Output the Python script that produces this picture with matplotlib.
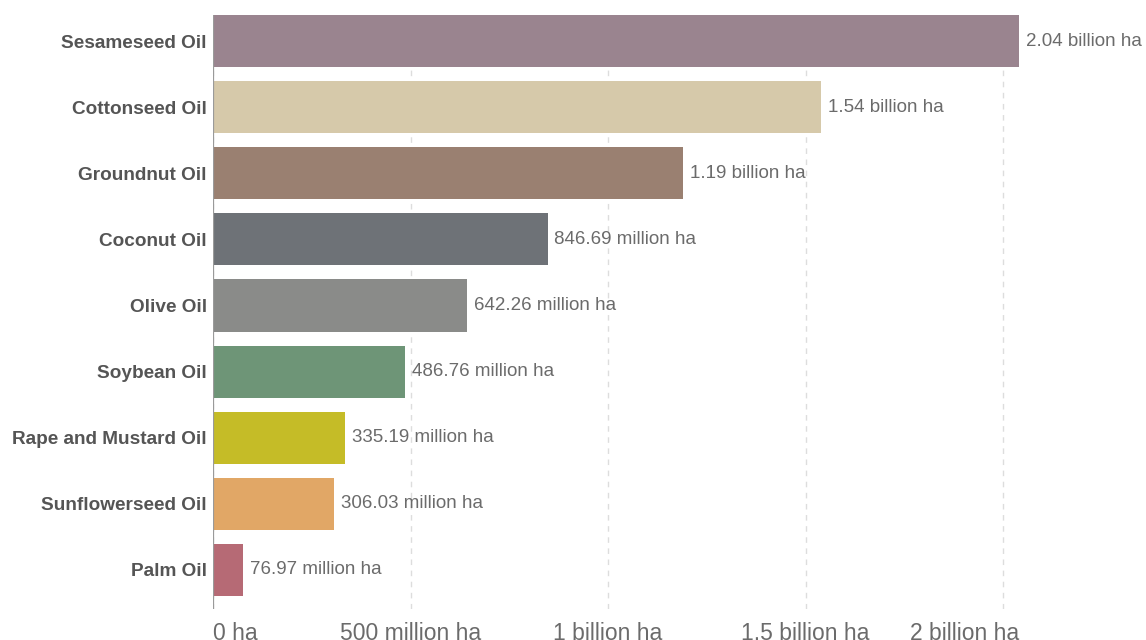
import numpy as np
import matplotlib
matplotlib.use("Agg")
import matplotlib.pyplot as plt
from matplotlib.transforms import blended_transform_factory

# harvested area per oil crop
oils = ["Sesameseed Oil", "Cottonseed Oil", "Groundnut Oil", "Coconut Oil",
        "Olive Oil", "Soybean Oil", "Rape and Mustard Oil",
        "Sunflowerseed Oil", "Palm Oil"]
area_ha = [2.04e9, 1.54e9, 1.19e9, 846.69e6, 642.26e6, 486.76e6,
           335.19e6, 306.03e6, 76.97e6]
colors = ["#9a848f", "#d6c9aa", "#9a8071", "#6e7277", "#8a8b89",
          "#6e9577", "#c5bc27", "#e1a766", "#b66a75"]
tick_vals = [0, 500e6, 1e9, 1.5e9, 2e9]
tick_text = ["0 ha", "500 million ha", "1 billion ha", "1.5 billion ha", "2 billion ha"]

plt.rcParams['font.family'] = ['Liberation Sans', 'DejaVu Sans']


def fmt_ha(v):
    if v >= 1e9:
        return "%.2f billion ha" % (v / 1e9)
    return "%.2f million ha" % (v / 1e6)


fig = plt.figure(figsize=(11.46, 6.4), dpi=100)
ax = fig.add_axes([213/1146, 1 - 609/640, (1019 - 213)/1146, (609 - 15)/640])

y = np.arange(len(oils))
ax.barh(y, area_ha, height=0.787, color=colors, zorder=2)
ax.set_ylim(8.59, -0.3935)
ax.set_xlim(0, max(area_ha))

for yi, v in zip(y, area_ha):
    ax.annotate(fmt_ha(v), (v, yi), xytext=(5, 0), textcoords='offset points',
                va='center', ha='left', fontsize=13.5, color='#6b6b6b',
                annotation_clip=False)

ax.set_yticks(y)
ax.set_yticklabels(oils, fontsize=13.7, fontweight='bold', color='#555555')
ax.set_xticks(tick_vals)
# the end labels are kept inside the plot width, so they are drawn by hand
ax.set_xticklabels([""] + tick_text[1:-1] + [""], fontsize=16.5, color='#6b6b6b')
ax.tick_params(axis='both', length=0)
ax.tick_params(axis='y', pad=4.5)
ax.tick_params(axis='x', pad=9)

tr = blended_transform_factory(ax.transAxes, ax.get_xticklabels()[1].get_transform())
lab_y = ax.get_xticklabels()[1].get_position()[1]
ax.text(0.0, lab_y, tick_text[0], transform=tr, ha='left', va='top',
        fontsize=16.5, color='#6b6b6b')
ax.text(1.0, lab_y, tick_text[-1], transform=tr, ha='right', va='top',
        fontsize=16.5, color='#6b6b6b')

for s in ax.spines.values():
    s.set_visible(False)
ax.grid(axis='x', linestyle=(0, (4, 4)), color='#dddddd', linewidth=1, zorder=0)
ax.axvline(0, color='#9a9a9a', linewidth=1.6, zorder=3)

fig.savefig("out.png", dpi=100)
